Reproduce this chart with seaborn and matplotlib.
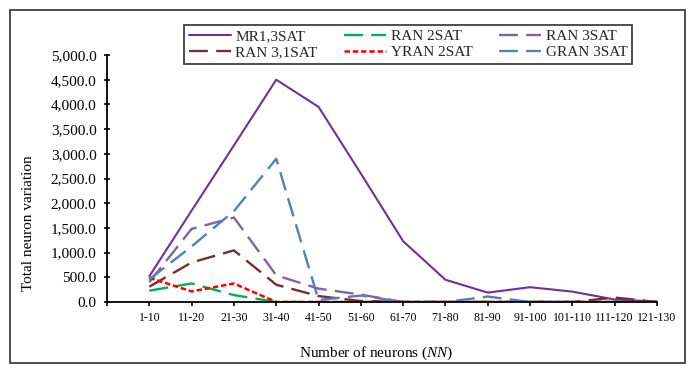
import numpy as np
import pandas as pd
import matplotlib
matplotlib.use("Agg")
import matplotlib.pyplot as plt
import seaborn as sns
from matplotlib.patches import Rectangle
from matplotlib.ticker import FuncFormatter

# =========================================================
# DATA
# =========================================================

bins = ["1-10", "11-20", "21-30", "31-40", "41-50", "51-60", "61-70",
        "71-80", "81-90", "91-100", "101-110", "111-120", "121-130"]

mr1_3sat   = [520, 1850, 3170, 4500, 3950, 2600, 1230, 450, 190, 300, 210, 50, 10]
ran_2sat   = [230, 375, 140, 0, 0, 0, 0, 0, 0, 0, 0, 0, 0]
ran_3sat   = [400, 1480, 1710, 540, 270, 150, 0, 0, 0, 0, 0, 0, 0]
ran_31sat  = [310, 800, 1045, 350, 120, 20, 0, 0, 0, 0, 0, 90, 0]
yran_2sat  = [490, 215, 375, 0, 0, 0, 0, 0, 0, 0, 0, 0, 0]
gran_3sat  = [460, 1125, 1840, 2900, 40, 130, 0, 0, 110, 0, 0, 0, 0]

series = {
    "MR1,3SAT"   : mr1_3sat,
    "RAN 2SAT"   : ran_2sat,
    "RAN 3SAT"   : ran_3sat,
    "RAN 3,1SAT" : ran_31sat,
    "YRAN 2SAT"  : yran_2sat,
    "GRAN 3SAT"  : gran_3sat,
}

styles = {
    "MR1,3SAT"   : dict(color="#7030A0", lw=1.5, ls="-"),
    "RAN 2SAT"   : dict(color="#00B050", lw=1.7, ls=(0, (8, 3.5))),
    "RAN 3SAT"   : dict(color="#8064A2", lw=1.7, ls=(0, (8, 3.5))),
    "RAN 3,1SAT" : dict(color="#73302E", lw=1.7, ls=(0, (8, 3.5))),
    "YRAN 2SAT"  : dict(color="#FF0000", lw=1.8, ls=(0, (2.2, 1.1))),
    "GRAN 3SAT"  : dict(color="#4F81BD", lw=1.7, ls=(0, (8, 3.5))),
}

# =========================================================
# PLOT
# =========================================================

sns.set_theme(style="ticks")
plt.rcParams["font.family"] = ["Liberation Serif", "DejaVu Serif"]
plt.rcParams["mathtext.fontset"] = "custom"
plt.rcParams["mathtext.it"] = "Liberation Serif:italic"
plt.rcParams["mathtext.rm"] = "Liberation Serif"

fig = plt.figure(figsize=(6.94, 3.71), dpi=100)
ax = fig.add_axes([107 / 694, 1 - 302 / 371, 550 / 694, 247 / 371])

pos = np.arange(len(bins))
for name, vals in series.items():
    st = styles[name]
    sns.lineplot(x=pos, y=vals, ax=ax, color=st["color"], linewidth=st["lw"],
                 linestyle=st["ls"], label=name, errorbar=None)

ax.set_xlim(-1, len(bins) - 1)
ax.set_ylim(0, 5000)
ax.set_yticks(np.arange(0, 5001, 500))
ax.yaxis.set_major_formatter(FuncFormatter(lambda v, p: f"{v:,.1f}"))
ax.set_xticks(np.arange(-1, len(bins)))
ax.set_xticklabels([""] + bins)

ax.tick_params(axis="y", direction="inout", length=5, width=1.2,
               labelsize=11, pad=5, colors="black")
ax.tick_params(axis="x", direction="out", length=3, width=1.2,
               labelsize=8.5, pad=4, colors="black")

sns.despine(ax=ax)
for sp in ["left", "bottom"]:
    ax.spines[sp].set_color("black")
    ax.spines[sp].set_linewidth(1.3)

ax.set_ylabel("Total neuron variation", fontsize=11, color="black")
ax.yaxis.set_label_coords(-0.131, 0.32)
ax.set_xlabel("Number of neurons ($\\it{NN}$)", fontsize=11, color="black")
ax.xaxis.set_label_coords(0.49, -0.174)

# legend in row order like the original
handles, labels = ax.get_legend_handles_labels()
order = [0, 3, 1, 4, 2, 5]
leg = ax.legend([handles[i] for i in order], [labels[i] for i in order],
                ncol=3, loc="upper left",
                bbox_to_anchor=(184 / 694, 1 - 25 / 371),
                bbox_transform=fig.transFigure, borderaxespad=0,
                fontsize=11, frameon=True, fancybox=False,
                handlelength=2.75, handletextpad=0.3, columnspacing=1.75,
                labelspacing=0.15, borderpad=0.3)
leg.get_frame().set_edgecolor("#404040")
leg.get_frame().set_linewidth(1.3)
leg.get_frame().set_alpha(1)

# outer chart border
fig.patches.append(Rectangle((10 / 694, 1 - 363 / 371), 675 / 694, 353 / 371,
                             transform=fig.transFigure, fill=False,
                             edgecolor="#404040", linewidth=1.3))

fig.savefig("out.png", dpi=100, facecolor="white")
